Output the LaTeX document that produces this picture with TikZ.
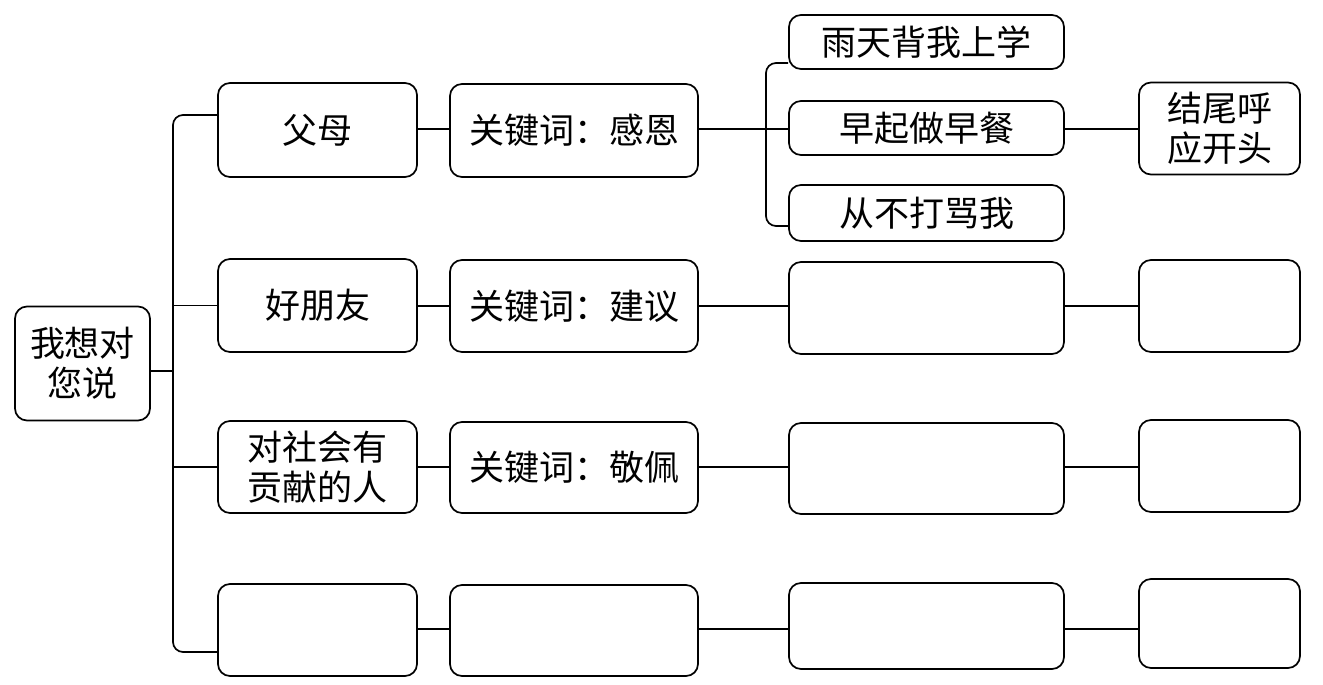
\documentclass[tikz,border=0pt]{standalone}
\usepackage{fontspec}
\newfontfamily\cjk{Noto Sans CJK SC}
\begin{document}
\begin{tikzpicture}[x=1pt,y=-1pt,
  box/.style={draw, line width=1.7pt, rounded corners=12pt, inner sep=0pt,
    align=center, font=\cjk\fontsize{35}{40}\selectfont},
  conn/.style={line width=1.7pt},
  brk/.style={line width=1.7pt, rounded corners=10pt}]
\useasboundingbox (0,0) rectangle (1323,685);
% root
\node[box, minimum width=135pt, minimum height=114pt] (root) at (82.5,363.5) {我想对\\您说};
% level 1
\node[box, minimum width=199pt, minimum height=94pt] (l1a) at (317.5,130) {父母};
\node[box, minimum width=199pt, minimum height=93pt] (l1b) at (317.5,305.5) {好朋友};
\node[box, minimum width=199pt, minimum height=92pt] (l1c) at (317.5,467) {对社会有\\贡献的人};
\node[box, minimum width=199pt, minimum height=92pt] (l1d) at (317.5,630) {};
% level 2
\node[box, minimum width=248pt, minimum height=93pt] (l2a) at (574,130.5) {关键词：感恩};
\node[box, minimum width=248pt, minimum height=92pt] (l2b) at (574,306) {关键词：建议};
\node[box, minimum width=248pt, minimum height=91pt] (l2c) at (574,467.5) {关键词：敬佩};
\node[box, minimum width=248pt, minimum height=91pt] (l2d) at (574,630.5) {};
% level 3
\node[box, minimum width=275pt, minimum height=54pt] (l3a1) at (926.5,42) {雨天背我上学};
\node[box, minimum width=275pt, minimum height=54pt] (l3a2) at (926.5,128) {早起做早餐};
\node[box, minimum width=275pt, minimum height=56pt] (l3a3) at (926.5,213) {从不打骂我};
\node[box, minimum width=275pt, minimum height=92pt] (l3b) at (926.5,308) {};
\node[box, minimum width=275pt, minimum height=91pt] (l3c) at (926.5,468.5) {};
\node[box, minimum width=275pt, minimum height=86pt] (l3d) at (926.5,626) {};
% level 4
\node[box, minimum width=161pt, minimum height=92pt] (l4a) at (1219.5,128.5) {结尾呼\\应开头};
\node[box, minimum width=161pt, minimum height=92pt] (l4b) at (1219.5,306) {};
\node[box, minimum width=161pt, minimum height=92pt] (l4c) at (1219.5,466) {};
\node[box, minimum width=161pt, minimum height=89pt] (l4d) at (1219.5,623.5) {};
% bracket coordinates
\coordinate (bt) at (173,115);
\coordinate (bb) at (173,652);
\coordinate (ct) at (766,63);
\coordinate (cb) at (766,226);
% row levels for the straight connectors
\coordinate (ra) at (0,129);
\coordinate (rb) at (0,306);
\coordinate (rc) at (0,467);
\coordinate (rd) at (0,629);
% root bracket
\draw[conn] (root.east |- 0,371) -- (bt |- 0,371);
\draw[brk] (l1a.west |- bt) -- (bt) -- (bb) -- (l1d.west |- bb);
\draw[conn] (l1b.west -| bt) -- (l1b.west);
\draw[conn] (l1c.west -| bt) -- (l1c.west);
% level1 -> level2
\draw[conn] (l1a.east |- ra) -- (l2a.west |- ra);
\draw[conn] (l1b.east |- rb) -- (l2b.west |- rb);
\draw[conn] (l1c.east |- rc) -- (l2c.west |- rc);
\draw[conn] (l1d.east |- rd) -- (l2d.west |- rd);
% level2 -> level3
\draw[brk] (l3a1.west |- ct) -- (ct) -- (cb) -- (l3a3.west |- cb);
\draw[conn] (l2a.east |- ra) -- (l3a2.west |- ra);
\draw[conn] (l2b.east |- rb) -- (l3b.west |- rb);
\draw[conn] (l2c.east |- rc) -- (l3c.west |- rc);
\draw[conn] (l2d.east |- rd) -- (l3d.west |- rd);
% level3 -> level4
\draw[conn] (l3a2.east |- ra) -- (l4a.west |- ra);
\draw[conn] (l3b.east |- rb) -- (l4b.west |- rb);
\draw[conn] (l3c.east |- rc) -- (l4c.west |- rc);
\draw[conn] (l3d.east |- rd) -- (l4d.west |- rd);
\end{tikzpicture}
\end{document}
